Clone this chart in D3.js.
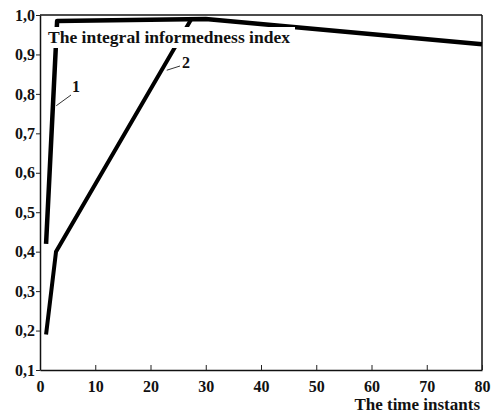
<!DOCTYPE html>
<html><head><meta charset="utf-8">
<script src="https://cdn.jsdelivr.net/npm/d3@7"></script>
<style>body{margin:0;background:#fff}svg{display:block}</style>
</head><body>
<svg id="c" width="496" height="415"></svg>
<script>
// ---- data ----
const xTicks = [0, 10, 20, 30, 40, 50, 60, 70, 80];
const xTickLabels = ["0", "10", "20", "30", "40", "50", "60", "70", "80"];
const yTicks = [0.1, 0.2, 0.3, 0.4, 0.5, 0.6, 0.7, 0.8, 0.9, 1.0];
const yTickLabels = ["0,1", "0,2", "0,3", "0,4", "0,5", "0,6", "0,7", "0,8", "0,9", "1,0"];
const series1T = [1.1, 3.1, 30, 80];
const series1V = [0.42, 0.985, 0.99, 0.926];
const series2T = [1.1, 2.9, 27.4];
const series2V = [0.19, 0.40, 0.99];
const yTitle = "The integral informedness index";
const xTitle = "The time instants";
const seriesNames = ["1", "2"];

const svg = d3.select("#c");
const font = "'Liberation Serif','Times New Roman',serif";
const x = d3.scaleLinear().domain([0, 80]).range([40, 482]);
const y = d3.scaleLinear().domain([0.1, 1.0]).range([370, 15]);

// frame top & right
svg.append("line").attr("x1", x(0)).attr("x2", x(80)).attr("y1", y(1)).attr("y2", y(1))
  .attr("stroke", "#111").attr("stroke-width", 1.3);
svg.append("line").attr("x1", x(80)).attr("x2", x(80)).attr("y1", y(1)).attr("y2", y(0.1))
  .attr("stroke", "#111").attr("stroke-width", 1.5);

// axes
const ax = svg.append("g").attr("transform", `translate(0,${y(0.1)})`)
  .call(d3.axisBottom(x).tickValues(xTicks).tickSizeInner(-5).tickSizeOuter(0).tickPadding(11)
    .tickFormat((d, i) => xTickLabels[i]));
const ay = svg.append("g").attr("transform", `translate(${x(0)},0)`)
  .call(d3.axisLeft(y).tickValues(yTicks).tickSizeInner(4).tickSizeOuter(0).tickPadding(1)
    .tickFormat((d, i) => yTickLabels[i]));
[ax, ay].forEach(g => {
  g.selectAll("path.domain").attr("stroke", "#111").attr("stroke-width", 1.5);
  g.selectAll(".tick line").attr("stroke", "#222");
  g.selectAll(".tick text").attr("font-family", font).attr("font-weight", "bold")
    .attr("font-size", 16).attr("fill", "#111");
});

const line = d3.line().x(d => x(d[0])).y(d => y(d[1]));
const s1 = series1T.map((t, i) => [t, series1V[i]]);
const s2 = series2T.map((t, i) => [t, series2V[i]]);
svg.append("path").attr("d", line(s2)).attr("fill", "none").attr("stroke", "#000").attr("stroke-width", 4);
svg.append("path").attr("d", line(s1)).attr("fill", "none").attr("stroke", "#000").attr("stroke-width", 4.5)
  .attr("stroke-linejoin", "round");

// y title with white box
svg.append("rect").attr("x", 43).attr("y", 27).attr("width", 252).attr("height", 21).attr("fill", "#fff");
svg.append("text").attr("x", 48).attr("y", 43).text(yTitle)
  .attr("textLength", 242).attr("lengthAdjust", "spacingAndGlyphs")
  .attr("font-family", font).attr("font-weight", "bold").attr("font-size", 17).attr("fill", "#111");

// x title
svg.append("text").attr("x", 480).attr("y", 410).attr("text-anchor", "end").text(xTitle)
  .attr("font-family", font).attr("font-weight", "bold").attr("font-size", 17).attr("fill", "#111");

// series labels with leaders
const lab = [
  {n: seriesNames[0], t: 2.4, v: 0.77, lx: 71, ly: 95, tx: 72, ty: 92},
  {n: seriesNames[1], t: 22.4, v: 0.86, lx: 180, ly: 66, tx: 182, ty: 68}
];
lab.forEach(L => {
  svg.append("line").attr("x1", x(L.t) + 3).attr("y1", y(L.v)).attr("x2", L.lx).attr("y2", L.ly)
    .attr("stroke", "#333").attr("stroke-width", 1);
  svg.append("text").attr("x", L.tx).attr("y", L.ty).text(L.n)
    .attr("font-family", font).attr("font-weight", "bold").attr("font-size", 16).attr("fill", "#111");
});
</script>
</body></html>
